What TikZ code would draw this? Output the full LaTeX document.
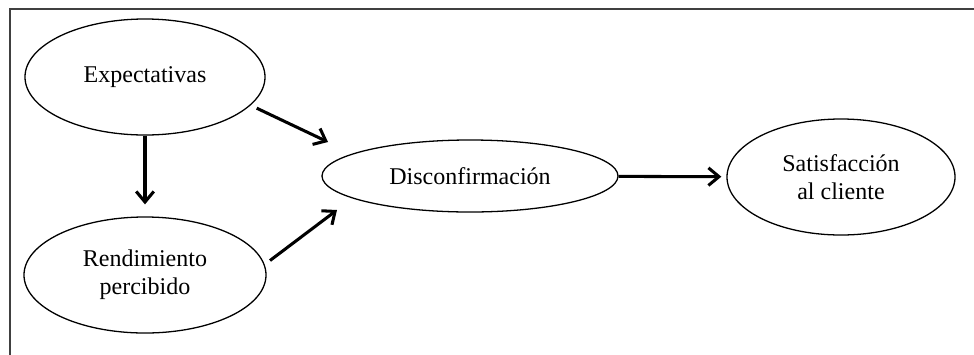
\documentclass[tikz,border=0pt]{standalone}
\usepackage{fontspec}
\setmainfont{Liberation Serif}
\usetikzlibrary{shapes.geometric,arrows.meta}

\begin{document}
\begin{tikzpicture}[
        x=0.03cm,
        y=-0.03cm,
        oval/.style={
            ellipse,
            draw,
            line width=1.1pt,
            inner sep=0pt,
            align=center,
            font=\fontsize{20.5}{24}\selectfont
          },
        arr/.style={
            -{Straight Barb[length=9pt,width=15pt]},
            line width=2.6pt
          }]
        % Fix the page size
        \useasboundingbox (0,0) rectangle (974,354);

        % Draw frame (cut off at right and bottom)
        \draw[line width=1.2pt, black!75] (990,9) -- (10,9) -- (10,370);

        % Draw ellipses
        \node[oval, minimum width=7.2cm, minimum height=3.48cm] (exp) at (145,77) {Expectativas};
        \node[oval, minimum width=7.26cm, minimum height=3.48cm] (ren) at (145,275) {Rendimiento\\percibido};
        \node[oval, minimum width=8.88cm, minimum height=2.16cm] (dis) at (470,176) {Disconfirmación};
        \node[oval, minimum width=6.84cm, minimum height=3.48cm] (sat) at (841,177) {Satisfacción\\al cliente};

        % Arrow ends
        \coordinate (tip1) at (328,142);
        \coordinate (tip2) at (337,210);

        % Draw arrows
        \draw[arr, shorten >=0.36cm] (exp) -- (ren);
        \draw[arr, shorten <=0.2cm] (exp.-15) -- (tip1);
        \draw[arr, shorten <=0.2cm] (ren.5) -- (tip2);
        \draw[arr, shorten >=0.15cm] (dis) -- (sat);
    \end{tikzpicture}
\end{document}
